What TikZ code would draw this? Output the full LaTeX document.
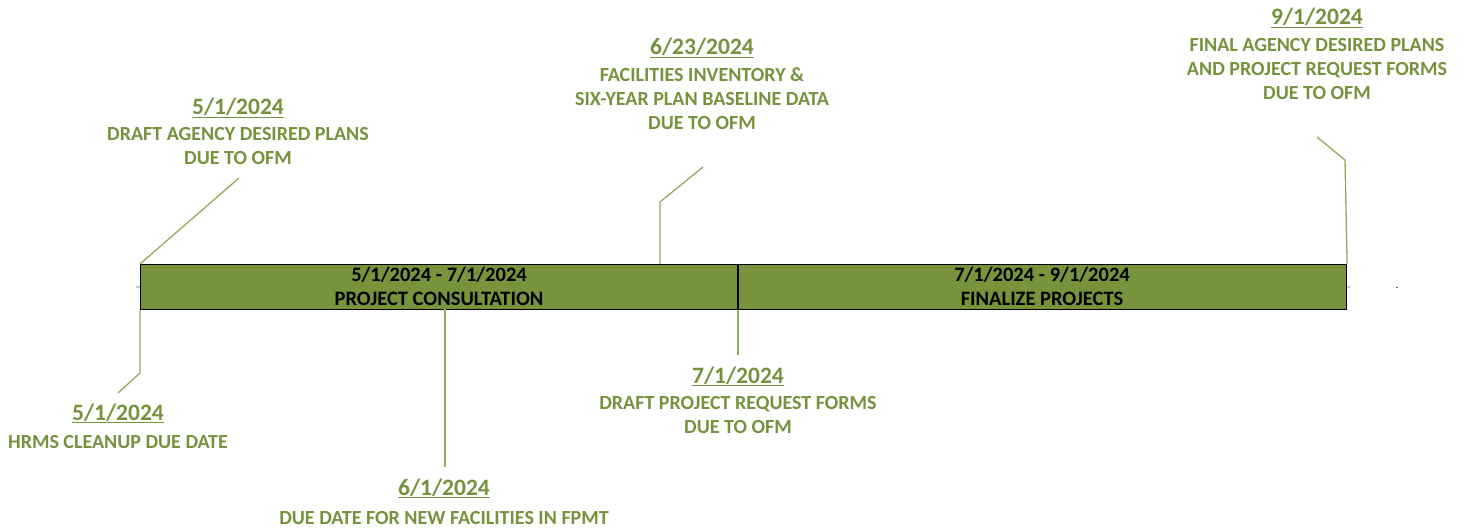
\documentclass[tikz,border=0pt]{standalone}
\usepackage{fontspec}
\setmainfont{Carlito}
\definecolor{txtgreen}{HTML}{76923C}
\definecolor{bargreen}{HTML}{77933C}
\definecolor{leadgreen}{HTML}{8EAD5A}
\begin{document}
\begin{tikzpicture}[x=1pt,y=-1pt,
  datelbl/.style={font=\fontsize{23.5}{28}\selectfont\bfseries, text=txtgreen, inner sep=0pt, anchor=base},
  bodylbl/.style={font=\fontsize{20}{24}\selectfont\bfseries, text=txtgreen, inner sep=0pt, align=center, anchor=base},
  barbox/.style={draw=black, line width=1.1pt, fill=bargreen, minimum height=45pt, inner sep=0pt, anchor=north west},
  bartxt/.style={font=\fontsize{20.5}{24.5}\selectfont\bfseries, text=black, inner sep=0pt, align=center, anchor=base},
  leader/.style={draw=leadgreen, line width=1.3pt},
  tick/.style={draw=black!60, line width=0.6pt}
]
\useasboundingbox (0,0) rectangle (1469,529);

% bar
\node[barbox, minimum width=598pt] (p1) at (140,264) {};
\node[barbox, minimum width=608pt] (p2) at (738,264) {};
\node[bartxt] (t1) at (439,305.5) {5/1/2024 - 7/1/2024\\PROJECT CONSULTATION};
\node[bartxt] (t2) at (1042,305.5) {7/1/2024 - 9/1/2024\\FINALIZE PROJECTS};

% small axis marks
\coordinate (m1) at (136,287);
\coordinate (m2) at (1350,287);
\coordinate (m3) at (1396,287);
\coordinate (m4) at (1398,287);
\draw[tick] (m1) -- (p1.west);
\draw[tick] (p2.east) -- (m2);
\draw[tick] (m3) -- (m4);

% labels above (multi-line nodes are placed at the baseline of their last line)
\node[datelbl] (d1) at (238,115) {\underline{5/1/2024}};
\node[bodylbl] (b1) at (238,165) {DRAFT AGENCY DESIRED PLANS\\DUE TO OFM};
\node[datelbl] (d4) at (702,55) {\underline{6/23/2024}};
\node[bodylbl] (b4) at (702,130) {FACILITIES INVENTORY \&\\SIX-YEAR PLAN BASELINE DATA\\DUE TO OFM};
\node[datelbl] (d6) at (1317,25) {\underline{9/1/2024}};
\node[bodylbl] (b6) at (1317,100) {FINAL AGENCY DESIRED PLANS\\AND PROJECT REQUEST FORMS\\DUE TO OFM};

% labels below
\node[datelbl] (d2) at (118,420) {\underline{5/1/2024}};
\node[bodylbl] (b2) at (118,448) {HRMS CLEANUP DUE DATE};
\node[datelbl] (d3) at (444,495) {\underline{6/1/2024}};
\node[bodylbl] (b3) at (444,524) {DUE DATE FOR NEW FACILITIES IN FPMT};
\node[datelbl] (d5) at (738,383) {\underline{7/1/2024}};
\node[bodylbl] (b5) at (738,433) {DRAFT PROJECT REQUEST FORMS\\DUE TO OFM};

% leader lines
\coordinate (c1) at (239,178);
\draw[leader] (p1.north west) -- (c1);

\coordinate (c2a) at (140,373);
\coordinate (c2b) at (118,393);
\draw[leader] (p1.south west) -- (c2a) -- (c2b);

\coordinate (c3a) at (445,309);
\coordinate (c3b) at (445,467);
\draw[leader] (c3a) -- (c3b);

\coordinate (c4a) at (660,264);
\coordinate (c4b) at (660,202);
\coordinate (c4c) at (703,167);
\draw[leader] (c4a) -- (c4b) -- (c4c);

\coordinate (c5) at (738,355);
\draw[leader] (p2.south west) -- (c5);

\coordinate (c6a) at (1345,160);
\coordinate (c6b) at (1317,137);
\draw[leader] (p2.north east) -- (c6a) -- (c6b);

% divider redrawn on top
\draw[black, line width=1.1pt] (p2.north west) -- (p2.south west);
\end{tikzpicture}
\end{document}
